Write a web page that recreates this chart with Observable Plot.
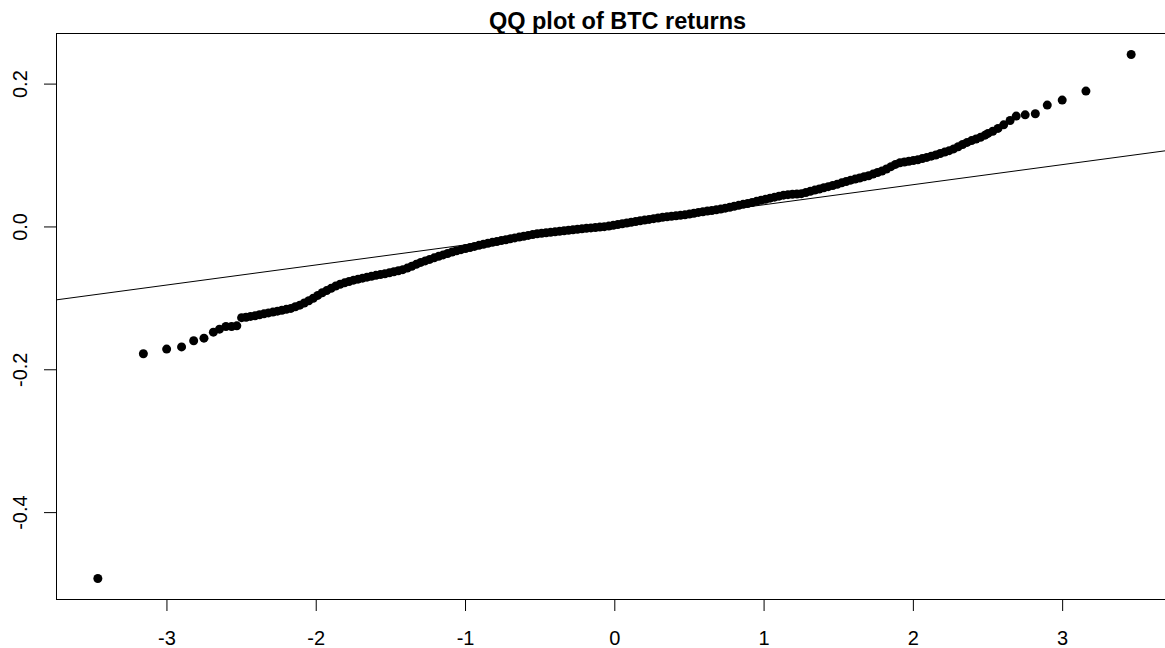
<!DOCTYPE html>
<html>
<head>
<meta charset="utf-8">
<script src="https://cdn.jsdelivr.net/npm/d3@7"></script>
<script src="https://cdn.jsdelivr.net/npm/@observablehq/plot@0.6"></script>
<style>
  html, body { margin: 0; padding: 0; background: #fff; overflow: hidden; }
  #chart svg { display: block; max-width: none !important; height: 648px !important; }
</style>
</head>
<body>
<div id="chart"></div>
<script>
// Theoretical normal quantiles (x) and sorted BTC daily returns (y)
const theoretical = [
  -3.463, -3.158, -3.002, -2.902, -2.821, -2.752, -2.689, -2.648, -2.605, -2.567, -2.532, -2.500,
  -2.47, -2.44, -2.41, -2.38, -2.35, -2.32, -2.29, -2.26, -2.23, -2.20,
  -2.17, -2.14, -2.11, -2.08, -2.05, -2.02, -1.99, -1.96, -1.93, -1.90,
  -1.87, -1.84, -1.81, -1.78, -1.75, -1.72, -1.69, -1.66, -1.63, -1.60,
  -1.57, -1.54, -1.51, -1.48, -1.45, -1.42, -1.39, -1.36, -1.33, -1.30,
  -1.27, -1.24, -1.21, -1.18, -1.15, -1.12, -1.09, -1.06, -1.03, -1.00,
  -0.97, -0.94, -0.91, -0.88, -0.85, -0.82, -0.79, -0.76, -0.73, -0.70,
  -0.67, -0.64, -0.61, -0.58, -0.55, -0.52, -0.49, -0.46, -0.43, -0.40,
  -0.37, -0.34, -0.31, -0.28, -0.25, -0.22, -0.19, -0.16, -0.13, -0.10,
  -0.07, -0.04, -0.01, 0.02, 0.05, 0.08, 0.11, 0.14, 0.17, 0.20,
  0.23, 0.26, 0.29, 0.32, 0.35, 0.38, 0.41, 0.44, 0.47, 0.50,
  0.53, 0.56, 0.59, 0.62, 0.65, 0.68, 0.71, 0.74, 0.77, 0.80,
  0.83, 0.86, 0.89, 0.92, 0.95, 0.98, 1.01, 1.04, 1.07, 1.10,
  1.13, 1.16, 1.19, 1.22, 1.25, 1.28, 1.31, 1.34, 1.37, 1.40,
  1.43, 1.46, 1.49, 1.52, 1.55, 1.58, 1.61, 1.64, 1.67, 1.70,
  1.73, 1.76, 1.79, 1.82, 1.85, 1.88, 1.91, 1.94, 1.97, 2.00,
  2.03, 2.06, 2.09, 2.12, 2.15, 2.18, 2.21, 2.24, 2.27, 2.30,
  2.33, 2.36, 2.39, 2.42, 2.45, 2.48,
  2.500, 2.532, 2.567, 2.605, 2.648, 2.689, 2.749, 2.817, 2.897, 2.997, 3.156, 3.459
];

const sample = [
  -0.4923, -0.1776, -0.1710, -0.1680, -0.1594, -0.1557, -0.1473, -0.1431, -0.1394, -0.1394, -0.1385, -0.1270,
  -0.1265, -0.1253, -0.1245, -0.1229, -0.1217, -0.1204, -0.1192, -0.1179, -0.1167, -0.1154,
  -0.1141, -0.1118, -0.1095, -0.1065, -0.1034, -0.0998, -0.0959, -0.0922, -0.0891, -0.0860,
  -0.0828, -0.0802, -0.0783, -0.0764, -0.0745, -0.0731, -0.0717, -0.0703, -0.0690, -0.0678,
  -0.0667, -0.0656, -0.0643, -0.0628, -0.0613, -0.0598, -0.0576, -0.0550, -0.0524, -0.0497,
  -0.0476, -0.0455, -0.0433, -0.0412, -0.0392, -0.0372, -0.0351, -0.0333, -0.0318, -0.0303,
  -0.0288, -0.0273, -0.0258, -0.0243, -0.0228, -0.0216, -0.0204, -0.0191, -0.0179, -0.0166,
  -0.0154, -0.0142, -0.0130, -0.0119, -0.0107, -0.0096, -0.0089, -0.0082, -0.0076, -0.0069,
  -0.0062, -0.0054, -0.0047, -0.0040, -0.0033, -0.0027, -0.0020, -0.0014, -0.0008, -0.0002,
  0.0004, 0.0012, 0.0022, 0.0034, 0.0045, 0.0055, 0.0066, 0.0076, 0.0087, 0.0096,
  0.0105, 0.0116, 0.0125, 0.0134, 0.0142, 0.0149, 0.0156, 0.0162, 0.0169, 0.0180,
  0.0191, 0.0203, 0.0213, 0.0222, 0.0230, 0.0239, 0.0250, 0.0263, 0.0276, 0.0289,
  0.0302, 0.0316, 0.0329, 0.0343, 0.0358, 0.0373, 0.0388, 0.0403, 0.0417, 0.0431,
  0.0445, 0.0452, 0.0457, 0.0461, 0.0466, 0.0483, 0.0499, 0.0516, 0.0532, 0.0548,
  0.0564, 0.0581, 0.0598, 0.0617, 0.0636, 0.0655, 0.0670, 0.0686, 0.0702, 0.0717,
  0.0740, 0.0762, 0.0784, 0.0811, 0.0844, 0.0876, 0.0899, 0.0910, 0.0920, 0.0930,
  0.0941, 0.0957, 0.0974, 0.0991, 0.1008, 0.1028, 0.1048, 0.1068, 0.1093, 0.1123,
  0.1154, 0.1184, 0.1209, 0.1232, 0.1255, 0.1285,
  0.1310, 0.1340, 0.1380, 0.1430, 0.1490, 0.1552, 0.1570, 0.1585, 0.1706, 0.1776, 0.1902, 0.2415
];

// Reference line through the quartiles (qqline)
const qqIntercept = 0.003;
const qqSlope = 0.0281;

const xTicks = [-3, -2, -1, 0, 1, 2, 3];
const yTicks = [-0.4, -0.2, 0.0, 0.2];
const title = "QQ plot of BTC returns";

const points = theoretical.map((q, i) => ({q, r: sample[i]}));

// Axis limits padded by 4% of the data range on each side
const xExt = d3.extent(theoretical);
const yExt = d3.extent(sample);
const xPad = (xExt[1] - xExt[0]) * 0.04;
const yPad = (yExt[1] - yExt[0]) * 0.04;
const xDomain = [xExt[0] - xPad, xExt[1] + xPad];
const yDomain = [yExt[0] - yPad, yExt[1] + yPad];

const font = "'Liberation Sans', Arial, Helvetica, sans-serif";

const chart = Plot.plot({
  width: 1172,
  height: 648,
  marginLeft: 56,
  marginRight: 0,
  marginTop: 33,
  marginBottom: 49,
  style: {background: "#fff", color: "#000", fontFamily: font, fontSize: "20px", overflow: "visible"},
  x: {domain: xDomain, ticks: xTicks, tickSize: 12, tickPadding: 19, tickFormat: d => String(d), label: null},
  y: {domain: yDomain, ticks: yTicks, tickSize: 12, tickFormat: () => "", label: null},
  marks: [
    Plot.frame({stroke: "#000", strokeWidth: 1}),
    Plot.line(xDomain, {x: d => d, y: d => qqIntercept + qqSlope * d, stroke: "#000", strokeWidth: 1}),
    Plot.dot(points, {x: "q", y: "r", r: 4.5, fill: "#000", stroke: null}),
    Plot.text(yTicks, {
      y: d => d, text: d => d.toFixed(1), frameAnchor: "left", rotate: -90,
      dx: -36, fontSize: 20, fill: "#000", textAnchor: "middle", lineAnchor: "middle"
    }),
    Plot.text([title], {
      text: d => d, frameAnchor: "top", lineAnchor: "bottom", dy: -5, dx: 3,
      fontSize: 23.5, fontWeight: "bold", fill: "#000"
    })
  ]
});

document.getElementById("chart").appendChild(chart);
</script>
</body>
</html>
